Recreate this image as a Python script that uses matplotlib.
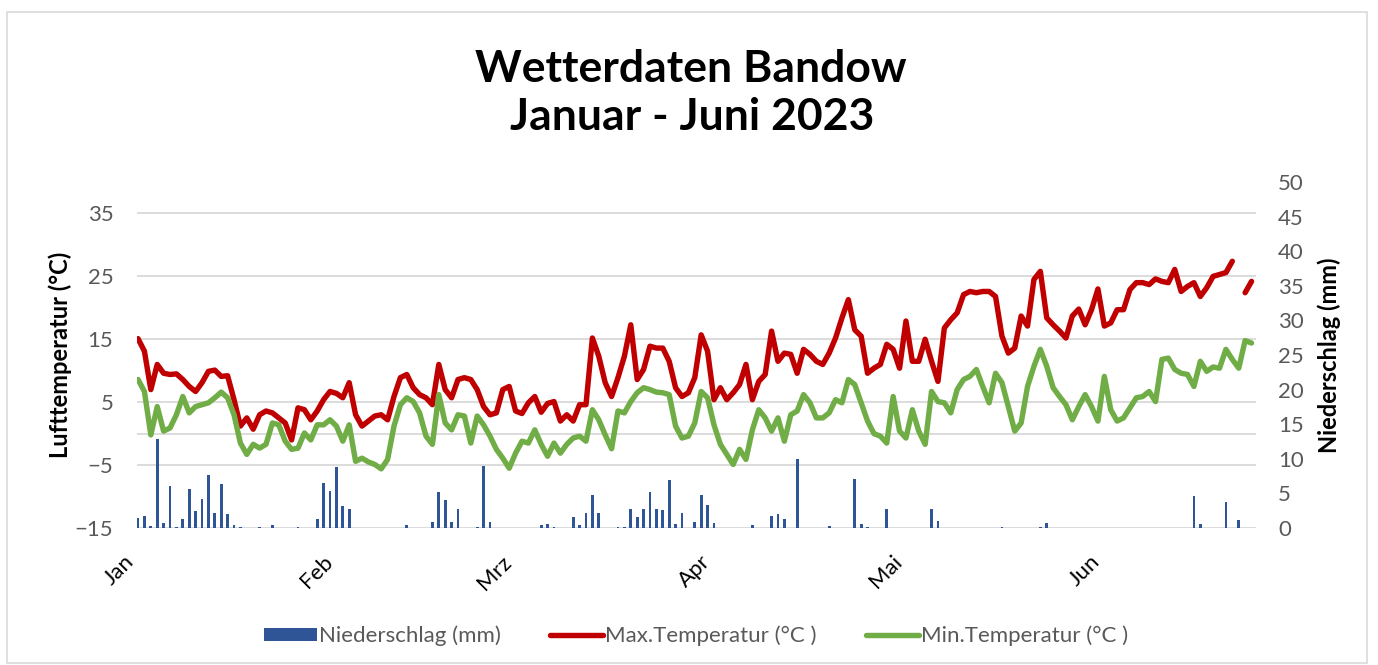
import numpy as np
import matplotlib
matplotlib.use("Agg")
import matplotlib.pyplot as plt
from matplotlib.patches import Rectangle
from matplotlib.transforms import ScaledTranslation

plt.rcParams['font.family'] = ['Lato', 'DejaVu Sans']

# daily values, 1 Jan 2023 .. 24 Jun 2023
t_max = [15.1, 13.1, 7.0, 11.0, 9.6, 9.4, 9.5, 8.6, 7.5, 6.7, 8.1, 9.9, 10.1, 9.1, 9.2, 5.4,
         1.2, 2.5, 0.7, 3.0, 3.6, 3.3, 2.5, 1.7, -1.0, 4.1, 3.8, 2.2, 3.6, 5.4, 6.7, 6.4, 5.7,
         8.1, 3.0, 1.2, 2.0, 2.8, 3.0, 2.2, 5.9, 8.9, 9.4, 7.3, 6.2, 5.7, 4.6,
         11.0, 7.0, 5.7, 8.6, 8.9, 8.6, 7.0, 4.3, 3.0, 3.3, 7.0, 7.5, 3.6, 3.2, 4.9, 5.9, 3.4,
         4.8, 5.1, 2.0, 3.0, 2.0, 4.6, 4.6, 15.2, 12.3, 8.1, 5.9, 8.9, 12.3,
         17.3, 8.6, 10.2, 13.9, 13.6, 13.6, 11.5, 7.3, 5.9, 6.5, 8.9, 15.7, 13.1, 5.4, 7.3, 5.4,
         6.5, 7.8, 11.0, 5.4, 8.3, 9.4, 16.3, 11.5, 12.8, 12.6, 9.6, 13.4, 12.6, 11.5, 11.0, 12.8,
         15.2, 18.4, 21.3, 16.5, 15.5, 9.6, 10.4, 11.0, 14.2, 13.4, 10.4, 17.9, 11.5, 11.5, 15.0,
         11.5, 8.3, 16.8, 18.1, 19.2, 22.1, 22.6, 22.4, 22.6, 22.6, 21.8, 15.5, 12.8, 13.6, 18.7,
         17.1, 24.5, 25.8, 18.4, 17.3, 16.3,
         15.2, 18.7, 19.8, 17.3, 19.7, 23.0, 17.1, 17.6, 19.7, 19.7, 22.9, 24.0, 24.0, 23.7, 24.6,
         24.2, 24.0, 26.1, 22.6, 23.4, 24.0, 21.8, 23.2, 25.0, 25.3, 25.6,
         27.4, np.nan, 22.4, 24.2]
t_min = [8.6, 6.7, -0.2, 4.3, 0.4, 0.9, 3.0, 5.9, 3.3, 4.3, 4.6, 4.9, 5.7, 6.6, 5.7, 3.0,
         -1.5, -3.3, -1.7, -2.3, -1.7, 1.7, 1.4, -1.2, -2.5, -2.3, 0.1, -1.0, 1.4, 1.4, 2.2, 1.2,
         -1.2, 1.4, -4.4, -3.9, -4.5, -4.9, -5.6, -4.1, 1.2, 4.6, 5.7, 5.1, 3.3, -0.4, -1.7,
         6.2, 1.7, 0.6, 3.0, 2.8, -1.5, 2.8, 1.4, -0.4, -2.5, -3.9, -5.5, -3.1, -1.2, -1.5, 0.6,
         -1.7, -3.6, -1.5, -3.1, -1.7, -0.7, -0.4, -1.2, 3.8, 2.2, -0.2, -2.4, 3.6, 3.3,
         5.1, 6.5, 7.3, 7.0, 6.6, 6.5, 6.2, 1.2, -0.7, -0.4, 1.7, 6.7, 5.7, 1.4, -1.7, -3.3, -4.9,
         -2.5, -4.1, 0.6, 3.8, 2.5, 0.4, 2.5, -1.2, 3.0, 3.6, 6.2, 4.9, 2.5, 2.5, 3.3,
         5.4, 4.9, 8.6, 7.8, 4.9, 2.0, 0.0, -0.4, -1.5, 5.9, 0.4, -0.7, 3.8, 0.4, -1.7, 6.7, 5.1,
         4.9, 3.3, 7.0, 8.6, 9.1, 10.2, 7.5, 4.9, 9.6, 8.1, 4.3, 0.4, 1.7, 7.5, 10.7, 13.4, 10.7,
         7.3, 5.9,
         4.6, 2.2, 4.3, 6.2, 4.3, 2.0, 9.1, 3.8, 2.0, 2.5, 4.1, 5.7, 5.9, 6.7, 5.1, 11.8, 12.0,
         10.2, 9.6, 9.4, 7.5, 11.5, 9.9, 10.6, 10.4, 13.4,
         11.8, 10.4, 14.8, 14.4]
rain_day = [0, 1, 2, 3, 4, 5, 6, 7, 8, 9, 10, 11, 12, 13, 14, 15, 16, 19, 21, 25, 28, 29, 30,
            31, 32, 33, 42, 46, 47, 48, 49, 50, 53, 54, 55, 63, 64, 65, 68, 69, 70, 71, 72, 75,
            76, 77, 78, 79, 80, 81, 82, 83, 84, 85, 87, 88, 89, 90, 96, 99, 100, 101, 103, 108,
            112, 113, 114, 117, 124, 125, 135, 141, 142, 165, 166, 170, 172]
rain_mm = [1.4, 1.8, 0.3, 12.9, 0.7, 6.0, 0.2, 1.3, 5.6, 2.5, 4.2, 7.6, 2.2, 6.3, 2.0, 0.4, 0.2,
           0.2, 0.4, 0.2, 1.3, 6.5, 5.4, 8.8, 3.2, 2.7, 0.4, 0.9, 5.2, 4.0, 0.9, 2.7, 0.2, 9.0,
           0.8, 0.4, 0.6, 0.2, 1.6, 0.4, 2.2, 4.7, 2.1, 0.2, 0.2, 2.7, 1.6, 2.8, 5.2, 2.7, 2.6,
           6.9, 0.6, 2.2, 0.9, 4.8, 3.3, 0.7, 0.5, 1.7, 2.0, 1.3, 10.0, 0.3, 7.1, 0.6, 0.2, 2.7,
           2.7, 1.0, 0.2, 0.2, 0.7, 4.6, 0.6, 3.7, 1.2]
month_start = [0, 31, 59, 90, 120, 151]
month_lbl = ["Jan", "Feb", "Mrz", "Apr", "Mai", "Jun"]
temp_ticks = [-15, -5, 5, 15, 25, 35]

days = np.arange(len(t_max))
W, H = 1378, 665
grey = "#595959"

fig = plt.figure(figsize=(W / 100, H / 100), dpi=100)
fig.patches.append(Rectangle((7 / W, 2 / H), 1360 / W, 651 / H, transform=fig.transFigure,
                             fill=False, edgecolor="#D9D9D9", lw=1.2))
ax = fig.add_axes([137 / W, 1 - 528 / H, (1256 - 137) / W, (528 - 182) / H])
ax.set_xlim(-0.16, 174.7)
ax.set_ylim(-15, 40)
for v in temp_ticks + [0]:
    ax.axhline(v, color="#D9D9D9", lw=1.3, zorder=0)
l1, = ax.plot(days, t_max, color="#C00000", lw=3.9, solid_joinstyle="round",
              solid_capstyle="round", label="Max.Temperatur (°C )")
l2, = ax.plot(days, t_min, color="#70AD47", lw=3.9, solid_joinstyle="round",
              solid_capstyle="round", label="Min.Temperatur (°C )")
ax.set_yticks(temp_ticks)
ax.set_xticks(month_start)
ax.set_xticklabels(month_lbl, rotation=45, ha="right", va="top", fontsize=16)
off = ScaledTranslation(5 / 100, 0, fig.dpi_scale_trans)
for t in ax.get_xticklabels():
    t.set_transform(t.get_transform() + off)
ax.tick_params(axis="x", length=0, pad=17)
ax.tick_params(axis="y", length=0, pad=17, labelsize=16, labelcolor=grey)
for s in ax.spines.values():
    s.set_visible(False)

ax2 = ax.twinx()
b = ax2.bar(rain_day, rain_mm, width=0.42, color="#2F5597", label="Niederschlag (mm)")
ax2.set_ylim(0, 50)
ax2.set_yticks(np.arange(0, 51, 5))
ax2.tick_params(axis="y", length=0, pad=16, labelsize=16, labelcolor=grey)
for s in ax2.spines.values():
    s.set_visible(False)

fig.text(691 / W, 1 - 82 / H, "Wetterdaten Bandow", ha="center", va="baseline",
         fontsize=32, fontweight="bold")
fig.text(692 / W, 1 - 130 / H, "Januar - Juni 2023", ha="center", va="baseline",
         fontsize=32, fontweight="bold")
fig.text(60 / W, 1 - 355 / H, "Lufttemperatur (°C)", rotation=90, ha="center", va="center",
         fontsize=17, fontweight="bold")
fig.text(1329 / W, 1 - 355 / H, "Niederschlag (mm)", rotation=90, ha="center", va="center",
         fontsize=17, fontweight="bold")

leg = fig.legend([b, l1, l2], ["Niederschlag (mm)", "Max.Temperatur (°C )", "Min.Temperatur (°C )"],
                 loc="center", bbox_to_anchor=(696 / W, 1 - 636 / H), ncol=3, frameon=False,
                 fontsize=16, handlelength=2.4, handleheight=0.5, handletextpad=0.1,
                 columnspacing=2.2)
for t in leg.get_texts():
    t.set_color(grey)

fig.savefig("out.png", dpi=100)
